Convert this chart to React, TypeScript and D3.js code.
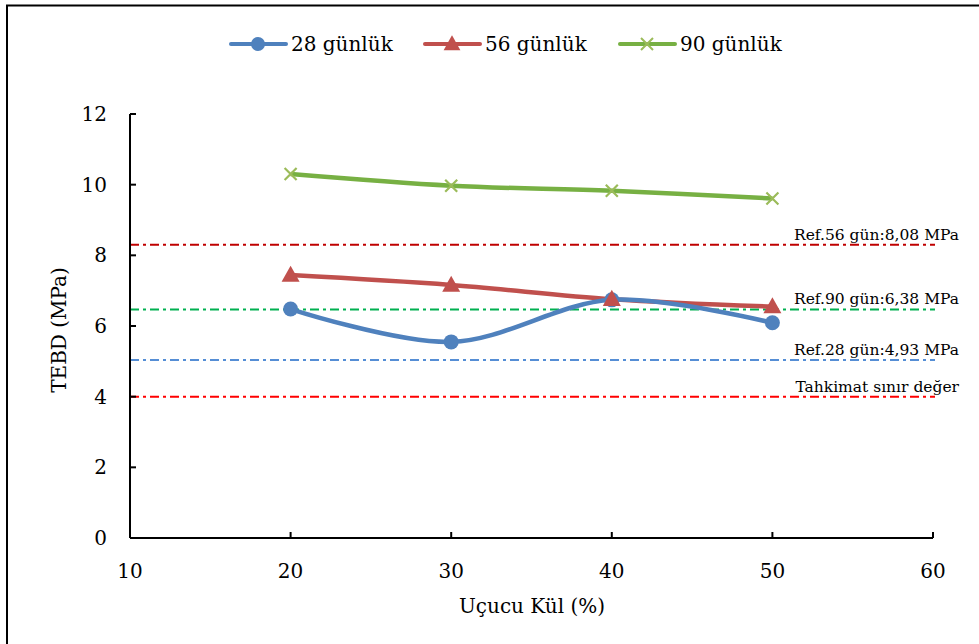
import React from "react";
import * as d3 from "d3";

const xValues = [20, 30, 40, 50];
const series28 = [6.48, 5.55, 6.74, 6.09];
const series56 = [7.44, 7.16, 6.76, 6.55];
const series90 = [10.3, 9.97, 9.83, 9.61];
const seriesNames = ["28 günlük", "56 günlük", "90 günlük"];
const xTicks = [10, 20, 30, 40, 50, 60];
const yTicks = [0, 2, 4, 6, 8, 10, 12];
const refValues = [8.3, 6.47, 5.04, 4.0];
const refLabels = ["Ref.56 gün:8,08 MPa", "Ref.90 gün:6,38 MPa", "Ref.28 gün:4,93 MPa", "Tahkimat sınır değer"];
const refColors = ["#C00000", "#00B050", "#558ED5", "#FF0000"];

const W = 979, H = 644;
const FONT = "DejaVu Serif";

export default function App() {
  const x = d3.scaleLinear().domain([10, 60]).range([130, 933]);
  const y = d3.scaleLinear().domain([0, 12]).range([538, 114]);
  const line = d3
    .line<number>()
    .x((_, i) => x(xValues[i]))
    .y((d) => y(d))
    .curve(d3.curveCatmullRom.alpha(0.5));

  const triangle = (cx: number, cy: number, s: number) =>
    `M${cx},${cy - s * 0.62}L${cx + s * 0.6},${cy + s * 0.45}L${cx - s * 0.6},${cy + s * 0.45}Z`;
  const cross = (cx: number, cy: number, s: number) =>
    `M${cx - s},${cy - s}L${cx + s},${cy + s}M${cx - s},${cy + s}L${cx + s},${cy - s}`;

  const legendItems = [
    { name: seriesNames[0], color: "#4F81BD", x0: 231, kind: "circle" },
    { name: seriesNames[1], color: "#C0504D", x0: 425, kind: "tri" },
    { name: seriesNames[2], color: "#77B043", x0: 620, kind: "x" },
  ];
  const ts = (size: number) => ({ fontFamily: FONT, fontSize: size });

  return (
    <svg width={W} height={H} style={{ position: "absolute", left: 0, top: 0, background: "#fff" }}>
      <rect x={0} y={0} width={W} height={H} fill="#fff" />
      <path d={`M7,${H}L7,5.5L${W},5.5`} fill="none" stroke="#000" strokeWidth={2} />

      {legendItems.map((it) => (
        <g key={it.name}>
          <line x1={it.x0} x2={it.x0 + 55} y1={44} y2={44} stroke={it.color} strokeWidth={4} strokeLinecap="round" />
          {it.kind === "circle" && <circle cx={it.x0 + 27} cy={44} r={7} fill={it.color} />}
          {it.kind === "tri" && <path d={triangle(it.x0 + 27, 44, 14)} fill={it.color} />}
          {it.kind === "x" && <path d={cross(it.x0 + 27, 44, 6)} stroke="#9BBB59" strokeWidth={2} fill="none" />}
          <text x={it.x0 + 60} y={51} style={ts(20)} fill="#000">{it.name}</text>
        </g>
      ))}

      {refValues.map((v, i) => (
        <g key={refLabels[i]}>
          <line x1={x(10)} x2={935} y1={y(v)} y2={y(v)} stroke={refColors[i]} strokeWidth={2} strokeDasharray="9 4 3 4" />
          <text x={959} y={y(v) - 5} textAnchor="end" style={ts(15.5)} fill="#000">{refLabels[i]}</text>
        </g>
      ))}

      <line x1={x(10)} x2={x(10)} y1={y(12)} y2={y(0)} stroke="#000" strokeWidth={2} />
      <line x1={x(10)} x2={x(60)} y1={y(0)} y2={y(0)} stroke="#000" strokeWidth={2} />
      {yTicks.map((t) => (
        <g key={"y" + t}>
          <line x1={x(10)} x2={x(10) + 6} y1={y(t)} y2={y(t)} stroke="#000" strokeWidth={2} />
          <text x={107} y={y(t) + 7} textAnchor="end" style={ts(20)} fill="#000">{t}</text>
        </g>
      ))}
      {xTicks.map((t) => (
        <g key={"x" + t}>
          <line x1={x(t)} x2={x(t)} y1={y(0)} y2={y(0) - 6} stroke="#000" strokeWidth={2} />
          <text x={x(t)} y={578} textAnchor="middle" style={ts(20)} fill="#000">{t}</text>
        </g>
      ))}
      <text x={532} y={613} textAnchor="middle" style={ts(20)} fill="#000">Uçucu Kül (%)</text>
      <text transform={`translate(66,330) rotate(-90)`} textAnchor="middle" style={ts(20)} fill="#000">TEBD (MPa)</text>

      <path d={line(series90) || ""} fill="none" stroke="#77B043" strokeWidth={4.5} />
      <path d={line(series56) || ""} fill="none" stroke="#C0504D" strokeWidth={4.5} />
      <path d={line(series28) || ""} fill="none" stroke="#4F81BD" strokeWidth={4.5} />
      {series90.map((v, i) => (
        <path key={"g" + i} d={cross(x(xValues[i]), y(v), 6)} stroke="#9BBB59" strokeWidth={2.2} fill="none" />
      ))}
      {series28.map((v, i) => (
        <circle key={"b" + i} cx={x(xValues[i])} cy={y(v)} r={7.5} fill="#4F81BD" />
      ))}
      {series56.map((v, i) => (
        <path key={"r" + i} d={triangle(x(xValues[i]), y(v), 15)} fill="#C0504D" />
      ))}
    </svg>
  );
}
